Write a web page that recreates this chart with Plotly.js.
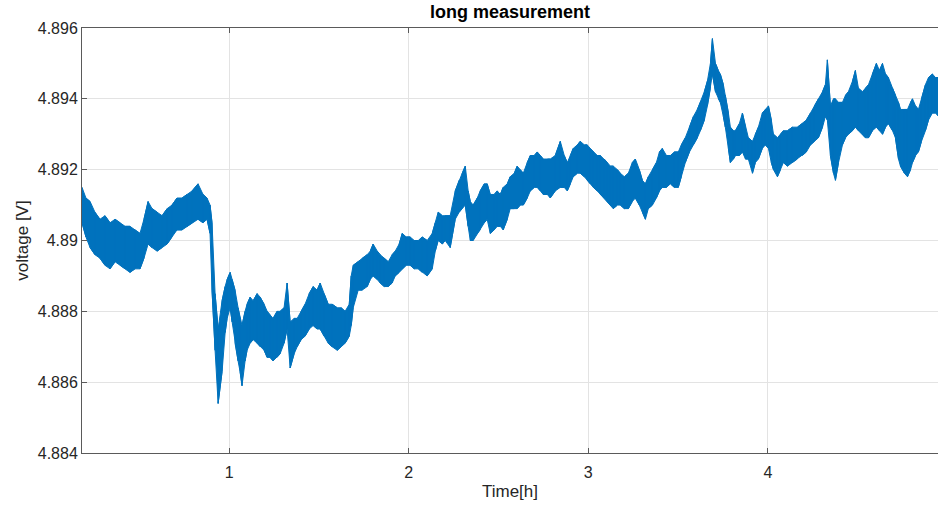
<!DOCTYPE html>
<html>
<head>
<meta charset="utf-8">
<script src="https://cdn.plot.ly/plotly-3.0.1.min.js"></script>
<style>html,body{margin:0;padding:0;background:#fff;}#chart{width:938px;height:508px;}</style>
</head>
<body>
<div id="chart"></div>
<script>
// Time in hours (sample positions)
const timeH = [0.181,0.203,0.226,0.253,0.281,0.309,0.337,0.365,0.393,0.421,0.448,0.476,0.504,0.526,0.549,0.571,0.599,0.627,0.655,0.682,0.710,0.738,0.766,0.794,0.827,0.855,0.877,0.894,0.905,
0.922,0.939,0.961,0.978,0.989,1.006,1.017,1.033,1.050,1.061,1.072,1.089,1.100,1.117,1.134,1.156,1.173,1.195,1.212,1.228,1.245,1.267,1.284,1.306,1.323,1.340,1.362,1.379,1.401,1.423,1.446,1.468,1.490,1.507,1.529,1.552,1.574,1.602,1.624,1.646,1.669,1.680,
1.691,1.719,1.741,1.769,1.786,1.802,1.825,1.841,1.864,1.886,1.908,1.925,1.947,1.964,1.986,2.008,2.031,2.053,2.075,2.103,2.131,2.148,2.164,2.187,2.203,2.231,2.259,2.281,2.298,2.315,2.331,2.343,2.359,2.382,2.398,2.421,
2.437,2.454,2.476,2.493,2.510,2.526,2.549,2.565,2.588,2.604,2.621,2.638,2.660,2.677,2.699,2.716,2.733,2.749,2.772,2.788,2.816,2.844,2.866,2.883,2.900,2.916,2.939,2.955,2.978,2.994,3.011,3.028,3.050,3.067,3.089,3.106,3.123,3.139,3.162,3.178,
3.201,3.223,3.245,3.262,3.284,3.301,3.318,3.334,3.357,3.379,3.396,3.412,3.435,3.457,3.479,3.501,3.518,3.540,3.563,3.585,3.607,3.624,3.646,3.663,3.680,3.691,3.708,3.724,3.735,3.752,3.763,3.780,3.791,3.808,3.819,3.841,3.858,3.875,3.891,3.914,3.930,3.947,3.969,
3.986,4.003,4.019,4.031,4.053,4.070,4.086,4.109,4.136,4.164,4.192,4.214,4.237,4.259,4.281,4.304,4.320,4.331,4.348,4.365,4.376,4.393,4.415,4.432,4.448,4.471,4.487,4.504,4.526,4.543,4.560,4.582,4.604,4.621,4.638,4.655,4.671,4.694,4.710,4.727,4.738,4.760,4.777,4.794,4.805,4.822,4.838,4.855,4.877,4.894,4.916,4.933,4.950];

// Upper edge of the noisy voltage trace [V]
const voltHigh = [4.8915,4.8912,4.8911,4.8908,4.8906,4.8907,4.8905,4.8906,4.8905,4.8904,4.8904,4.8903,4.8902,4.8906,4.8911,4.8909,4.8908,4.8907,4.8909,4.8910,4.8912,4.8912,4.8913,4.8914,4.8916,4.8913,4.8912,4.8910,4.8905,
4.8885,4.8875,4.8883,4.8887,4.8889,4.8891,4.8889,4.8886,4.8881,4.8878,4.8876,4.8880,4.8882,4.8884,4.8883,4.8885,4.8884,4.8882,4.8880,4.8879,4.8878,4.8880,4.8880,4.8881,4.8888,4.8877,4.8878,4.8878,4.8880,4.8882,4.8885,4.8887,4.8886,4.8888,4.8885,4.8882,4.8882,4.8881,4.8881,4.8880,4.8882,4.8890,
4.8893,4.8894,4.8895,4.8896,4.8897,4.8899,4.8897,4.8896,4.8895,4.8894,4.8896,4.8897,4.8899,4.8902,4.8901,4.8901,4.8900,4.8900,4.8901,4.8900,4.8902,4.8905,4.8908,4.8907,4.8907,4.8907,4.8914,4.8917,4.8919,4.8921,4.8914,4.8911,4.8910,4.8912,4.8914,4.8916,
4.8916,4.8913,4.8913,4.8914,4.8913,4.8915,4.8916,4.8918,4.8919,4.8921,4.8920,4.8919,4.8922,4.8924,4.8924,4.8925,4.8924,4.8923,4.8923,4.8923,4.8924,4.8928,4.8924,4.8922,4.8924,4.8926,4.8927,4.8928,4.8927,4.8927,4.8926,4.8925,4.8924,4.8924,4.8923,4.8922,4.8921,4.8921,4.8920,4.8919,
4.8918,4.8919,4.8922,4.8923,4.8920,4.8917,4.8916,4.8918,4.8920,4.8922,4.8925,4.8926,4.8924,4.8924,4.8925,4.8925,4.8927,4.8929,4.8932,4.8935,4.8937,4.8939,4.8942,4.8945,4.8950,4.8957,4.8950,4.8948,4.8947,4.8944,4.8941,4.8936,4.8932,4.8931,4.8931,4.8933,4.8936,4.8932,4.8929,4.8928,4.8930,4.8932,4.8936,
4.8937,4.8938,4.8934,4.8930,4.8929,4.8930,4.8931,4.8931,4.8932,4.8932,4.8933,4.8934,4.8936,4.8938,4.8940,4.8942,4.8944,4.8951,4.8938,4.8940,4.8940,4.8939,4.8939,4.8941,4.8942,4.8945,4.8948,4.8943,4.8942,4.8943,4.8944,4.8947,4.8950,4.8948,4.8950,4.8947,4.8946,4.8943,4.8941,4.8939,4.8937,4.8937,4.8937,4.8939,4.8940,4.8938,4.8937,4.8940,4.8944,4.8946,4.8947,4.8946,4.8946];

// Lower edge of the noisy voltage trace [V]
const voltLow = [4.8905,4.8901,4.8898,4.8896,4.8895,4.8893,4.8892,4.8894,4.8893,4.8892,4.8891,4.8892,4.8892,4.8895,4.8899,4.8898,4.8897,4.8898,4.8899,4.8901,4.8903,4.8903,4.8904,4.8905,4.8906,4.8905,4.8906,4.8902,4.8886,
4.8869,4.8854,4.8863,4.8874,4.8878,4.8881,4.8877,4.8871,4.8866,4.8863,4.8859,4.8866,4.8869,4.8871,4.8872,4.8871,4.8870,4.8869,4.8867,4.8867,4.8866,4.8867,4.8868,4.8871,4.8875,4.8864,4.8868,4.8870,4.8872,4.8873,4.8875,4.8876,4.8875,4.8875,4.8873,4.8871,4.8870,4.8869,4.8870,4.8871,4.8873,4.8876,
4.8881,4.8886,4.8886,4.8887,4.8889,4.8890,4.8889,4.8888,4.8887,4.8887,4.8888,4.8890,4.8891,4.8892,4.8893,4.8893,4.8892,4.8892,4.8891,4.8890,4.8892,4.8897,4.8900,4.8899,4.8900,4.8898,4.8906,4.8908,4.8909,4.8910,4.8904,4.8900,4.8900,4.8902,4.8903,4.8905,
4.8906,4.8902,4.8903,4.8904,4.8904,4.8903,4.8906,4.8909,4.8909,4.8909,4.8910,4.8910,4.8912,4.8914,4.8915,4.8915,4.8914,4.8913,4.8913,4.8912,4.8914,4.8915,4.8915,4.8914,4.8916,4.8918,4.8919,4.8919,4.8918,4.8917,4.8916,4.8915,4.8914,4.8913,4.8912,4.8911,4.8910,4.8909,4.8910,4.8910,
4.8909,4.8909,4.8911,4.8912,4.8910,4.8908,4.8906,4.8909,4.8910,4.8912,4.8914,4.8915,4.8915,4.8916,4.8915,4.8915,4.8918,4.8922,4.8925,4.8927,4.8929,4.8931,4.8934,4.8938,4.8943,4.8947,4.8942,4.8940,4.8939,4.8935,4.8932,4.8926,4.8922,4.8923,4.8924,4.8924,4.8925,4.8923,4.8923,4.8919,4.8922,4.8923,4.8926,
4.8927,4.8926,4.8922,4.8920,4.8918,4.8920,4.8922,4.8921,4.8922,4.8923,4.8924,4.8925,4.8927,4.8928,4.8929,4.8932,4.8935,4.8934,4.8924,4.8919,4.8917,4.8922,4.8927,4.8929,4.8930,4.8931,4.8932,4.8931,4.8930,4.8929,4.8929,4.8931,4.8932,4.8931,4.8930,4.8932,4.8933,4.8931,4.8929,4.8923,4.8921,4.8919,4.8918,4.8920,4.8922,4.8924,4.8925,4.8928,4.8931,4.8934,4.8936,4.8936,4.8935];

const yTickVals = [4.884,4.886,4.888,4.890,4.892,4.894,4.896];
const yTickText = ['4.884','4.886','4.888','4.89','4.892','4.894','4.896'];
const xTickVals = [1,2,3,4];
const xTickText = ['1','2','3','4'];

const lineColor = '#0072BD';

// zig-zag path between the edges to give the band a noisy texture
const zigX = [], zigY = [];
timeH.forEach((t, i) => {
  if (i % 2 === 0) { zigX.push(t, t); zigY.push(voltHigh[i], voltLow[i]); }
  else { zigX.push(t, t); zigY.push(voltLow[i], voltHigh[i]); }
});

const traces = [
  {x: timeH, y: voltLow, type: 'scatter', mode: 'lines', line: {color: lineColor, width: 1}, hoverinfo: 'skip', showlegend: false},
  {x: timeH, y: voltHigh, type: 'scatter', mode: 'lines', fill: 'tonexty', fillcolor: lineColor, line: {color: lineColor, width: 1}, showlegend: false},
  {x: zigX, y: zigY, type: 'scatter', mode: 'lines', line: {color: lineColor, width: 1}, hoverinfo: 'skip', showlegend: false}
];

const fontFam = '"Liberation Sans", Arial, Helvetica, sans-serif';
const layout = {
  width: 938, height: 508,
  margin: {l: 82, r: 0, t: 28, b: 55},
  paper_bgcolor: '#fff', plot_bgcolor: '#fff',
  font: {family: fontFam, color: '#262626', size: 16},
  showlegend: false,
  title: {text: '<b>long measurement</b>', font: {family: fontFam, size: 18, color: '#000'}, xref: 'paper', x: 0.5, xanchor: 'center', yref: 'container', y: 0.976, yanchor: 'middle'},
  xaxis: {
    range: [0.181, 4.947], tickvals: xTickVals, ticktext: xTickText,
    showgrid: true, gridcolor: '#e3e3e3', gridwidth: 1, zeroline: false,
    showline: true, linecolor: '#5a5a5a', linewidth: 1, mirror: 'ticks',
    ticks: 'inside', ticklen: 5, tickcolor: '#5a5a5a', ticklabelstandoff: 5,
    tickfont: {family: fontFam, size: 16, color: '#262626'},
    title: {text: 'Time[h]', font: {family: fontFam, size: 17, color: '#262626'}, standoff: 4}
  },
  yaxis: {
    range: [4.884, 4.896], tickvals: yTickVals, ticktext: yTickText,
    showgrid: true, gridcolor: '#e3e3e3', gridwidth: 1, zeroline: false,
    showline: true, linecolor: '#5a5a5a', linewidth: 1, mirror: false,
    ticks: 'inside', ticklen: 5, tickcolor: '#5a5a5a',
    tickfont: {family: fontFam, size: 16, color: '#262626'},
    title: {text: 'voltage [V]', font: {family: fontFam, size: 17, color: '#262626'}, standoff: 4}
  }
};

Plotly.newPlot('chart', traces, layout, {displayModeBar: false, staticPlot: true});
</script>
</body>
</html>
